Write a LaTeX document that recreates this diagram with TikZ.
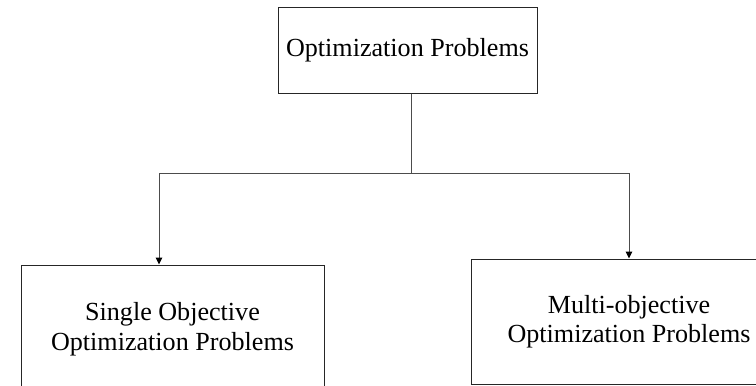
\documentclass[tikz,border=0pt]{standalone}
\usepackage{fontspec}
\setmainfont{Liberation Serif}
\usetikzlibrary{arrows.meta}
\begin{document}
\begin{tikzpicture}[x=1pt,y=-1pt,
  box/.style={draw=black!85, line width=1pt, inner sep=0pt, align=center,
    font=\fontsize{26.1pt}{29.5pt}\selectfont},
  link/.style={draw=black!70, line width=1pt},
  arrowlink/.style={link, -{Triangle[length=7pt,width=6.5pt,color=black]}}]
  \useasboundingbox (0,0) rectangle (756,386);
  \clip (0,0) rectangle (756,386);
  % parent category
  \node[box, minimum width=259pt, minimum height=86pt] (top) at (407.5,50) {Optimization Problems};
  % the two sub-categories
  \node[box, minimum width=303pt, minimum height=128pt] (single) at (172.5,329) {Single Objective\\Optimization Problems};
  \node[box, minimum width=316pt, minimum height=125pt] (multi) at (629,321.5) {Multi-objective\\Optimization Problems};
  % branching connector
  \coordinate (fork) at (411,173);
  \coordinate (forkL) at (159,173);
  \coordinate (forkR) at (629,173);
  \draw[link] (top.south -| fork) -- (fork);
  \draw[arrowlink] (fork) -- (forkL) -- (forkL |- single.north);
  \draw[arrowlink] (fork) -- (forkR) -- (forkR |- multi.north);
\end{tikzpicture}
\end{document}
